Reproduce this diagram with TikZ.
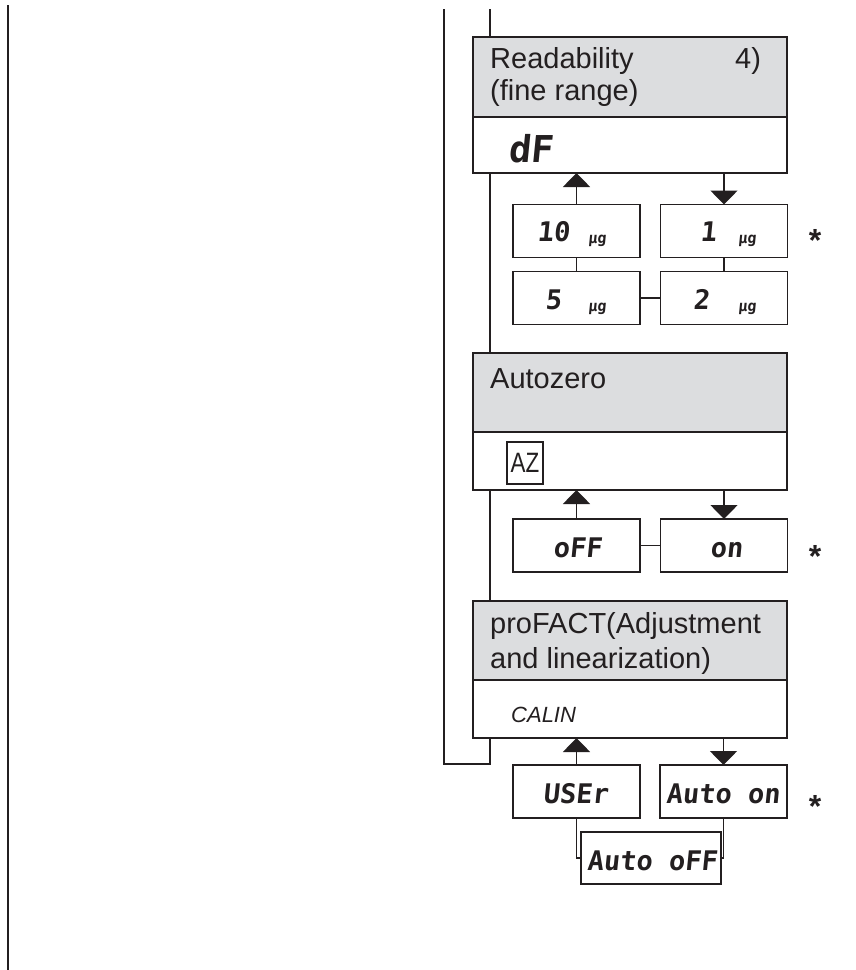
\documentclass[tikz,border=0pt]{standalone}
\usepackage{fontspec}
\setmainfont{Liberation Sans}
\newfontfamily\lcd{DejaVu Sans Mono}[FakeSlant=0.1]
\newfontfamily\azfont{Liberation Sans}[FakeStretch=0.8]
\usetikzlibrary{arrows.meta}
\definecolor{ink}{HTML}{231F20}
\definecolor{hdrgray}{HTML}{DCDDDF}
\begin{document}
\begin{tikzpicture}[x=1pt,y=-1pt,
  ln/.style={draw=ink, line width=2pt},
  hdr/.style={draw=ink, line width=2pt, fill=hdrgray, minimum width=314pt, minimum height=80pt, anchor=north west, inner sep=0pt, outer sep=0pt},
  bod/.style={draw=ink, line width=2pt, fill=white, minimum width=314pt, minimum height=57pt, anchor=north west, inner sep=0pt, outer sep=0pt},
  opt/.style={draw=ink, line width=1.8pt, fill=white, minimum width=127pt, minimum height=53pt, inner sep=0pt, outer sep=0pt},
  conn/.style={draw=ink, line width=1.7pt},
  arr/.style={conn, -{Triangle[width=27pt,length=14pt]}},
  htxt/.style={anchor=base west, inner sep=0pt, text=ink, font=\fontsize{29}{34}\selectfont},
  lcdtxt/.style={anchor=base west, inner sep=0pt, text=ink, font=\lcd\bfseries\fontsize{27}{27}\selectfont},
  unittxt/.style={anchor=base west, inner sep=0pt, text=ink, font=\lcd\bfseries\fontsize{15}{15}\selectfont},
  startxt/.style={anchor=base, inner sep=0pt, text=ink, font=\bfseries\fontsize{32}{32}\selectfont},
]
\useasboundingbox[fill=white] (0,0) rectangle (855,970);

% frame lines
\coordinate (ltop) at (7.5,5);
\coordinate (lbot) at (7.5,970);
\draw[ln] (ltop) -- (lbot);
\coordinate (otop) at (444,9);
\coordinate (obot) at (444,764);
\coordinate (ibot) at (490,764);
\coordinate (itop) at (490,9);
\draw[ln] (otop) -- (obot) -- (ibot) -- (itop);

% Readability
\node[hdr] (rdh) at (473,37) {};
\node[bod, minimum height=56pt] (rdb) at (473,117) {};
\node[htxt] (t1) at (490,68) {Readability};
\node[htxt] (t2) at (490,100) {(fine range)};
\node[htxt] (t3) at (735,68) {4)};
\node[lcdtxt, font=\lcd\bfseries\fontsize{37}{37}\selectfont] (tdf) at (508,162) {dF};

\node[opt] (b10) at (576.5,231) {};
\node[opt] (b1) at (724,231) {};
\node[opt] (b5) at (576.5,298) {};
\node[opt] (b2) at (724,298) {};
\node[lcdtxt] at (537,241) {10};
\node[unittxt] at (588,243) {µg};
\node[lcdtxt] at (700,241) {1};
\node[unittxt] at (738,243) {µg};
\node[lcdtxt] at (545,309) {5};
\node[unittxt] at (588,311) {µg};
\node[lcdtxt] at (693,309) {2};
\node[unittxt] at (738,311) {µg};
\draw[arr] (b10.north) -- (b10.north |- rdb.south);
\draw[arr] (b1.north |- rdb.south) -- (b1.north);
\draw[conn] (b10.south) -- (b5.north);
\draw[conn] (b1.south) -- (b2.north);
\draw[conn] (b5.east) -- (b2.west);
\node[startxt] (s1) at (815,251) {*};

% Autozero
\node[hdr, minimum height=79pt] (azh) at (473,353) {};
\node[bod, minimum height=58pt] (azb) at (473,432) {};
\node[htxt] (t4) at (490,388) {Autozero};
\node[draw=ink, line width=1.5pt, minimum width=36pt, minimum height=42pt, inner sep=0pt, text=ink, font=\azfont\fontsize{28}{28}\selectfont] (az) at (525,463) {AZ};

\node[opt] (boff) at (576.5,545.5) {};
\node[opt] (bon) at (724,545.5) {};
\node[lcdtxt] at (553,557) {oFF};
\node[lcdtxt] at (710,557) {on};
\draw[arr] (boff.north) -- (boff.north |- azb.south);
\draw[arr] (bon.north |- azb.south) -- (bon.north);
\draw[conn] (boff.east) -- (bon.west);
\node[startxt] (s2) at (815,567) {*};

% proFACT
\node[hdr, minimum height=79pt] (pfh) at (473,601) {};
\node[bod, minimum height=58pt] (pfb) at (473,680) {};
\node[htxt] (t5) at (490,633) {proFACT(Adjustment};
\node[htxt] (t6) at (490,668) {and linearization)};
\node[anchor=base west, inner sep=0pt, text=ink, font=\itshape\fontsize{22}{22}\selectfont] (t7) at (511,722) {CALIN};

\node[opt] (buser) at (576.5,791.5) {};
\node[opt] (bauton) at (723.5,791.5) {};
\node[opt, minimum width=140pt, minimum height=52pt] (bautooff) at (651,858) {};
\node[lcdtxt] at (543,803) {USEr};
\node[lcdtxt] at (666,803) {Auto on};
\node[lcdtxt] at (587,870) {Auto oFF};
\draw[arr] (buser.north) -- (buser.north |- pfb.south);
\draw[arr] (bauton.north |- pfb.south) -- (bauton.north);
\draw[conn] (buser.south) |- (bautooff.west);
\draw[conn] (bauton.south) |- (bautooff.east);
\node[startxt] (s3) at (815,817) {*};
\end{tikzpicture}
\end{document}
